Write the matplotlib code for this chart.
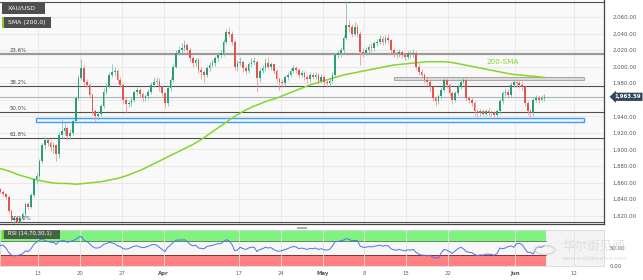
import numpy as np
import pandas as pd
import matplotlib
matplotlib.use("Agg")
import matplotlib.pyplot as plt
from matplotlib.patches import Rectangle
import matplotlib.transforms as mtransforms

# ---------------- data ----------------
start_date = "2023-03-06"
anchor_date = "2023-03-13"
holidays = ["2023-04-07"]

# 8-hour candle closes (3 per trading day; last day has 2)
closes = [
    1852, 1849, 1846,  # Mar 6
    1843, 1826, 1815,  # Mar 7
    1817, 1813, 1817,  # Mar 8
    1822, 1834, 1831,  # Mar 9
    1845, 1864, 1868,  # Mar 10
    1886, 1905, 1912,  # Mar 13
    1908, 1903, 1905,  # Mar 14
    1894, 1918, 1922,  # Mar 15
    1926, 1916, 1920,  # Mar 16
    1934, 1962, 1986,  # Mar 17
    1998, 1982, 1978,  # Mar 20
    1966, 1946, 1940,  # Mar 21
    1943, 1952, 1970,  # Mar 22
    1976, 1990, 1993,  # Mar 23
    1995, 1984, 1978,  # Mar 24
    1960, 1955, 1956,  # Mar 27
    1960, 1969, 1972,  # Mar 28
    1967, 1962, 1964,  # Mar 29
    1970, 1978, 1981,  # Mar 30
    1983, 1975, 1968,  # Mar 31
    1956, 1974, 1984,  # Apr 3
    2000, 2017, 2020,  # Apr 4
    2023, 2026, 2020,  # Apr 5
    2010, 2004, 2008,  # Apr 6
    1996, 1993, 1990,  # Apr 10
    1998, 2002, 2004,  # Apr 11
    2010, 2014, 2016,  # Apr 12
    2030, 2042, 2040,  # Apr 13
    2030, 2000, 2004,  # Apr 14
    2006, 1998, 1995,  # Apr 17
    2003, 2006, 2006,  # Apr 18
    1986, 1995, 1998,  # Apr 19
    2005, 2000, 2003,  # Apr 20
    1995, 1985, 1982,  # Apr 21
    1980, 1987, 1990,  # Apr 24
    1995, 1998, 1996,  # Apr 25
    1990, 1992, 1988,  # Apr 26
    1985, 1990, 1988,  # Apr 27
    1990, 1983, 1988,  # Apr 28
    1982, 1980, 1983,  # May 1
    1990, 2014, 2016,  # May 2
    2020, 2035, 2050,  # May 3
    2048, 2040, 2048,  # May 4
    2040, 2018, 2017,  # May 5
    2020, 2024, 2022,  # May 8
    2028, 2030, 2034,  # May 9
    2030, 2035, 2032,  # May 10
    2020, 2016, 2015,  # May 11
    2018, 2014, 2012,  # May 12
    2016, 2015, 2017,  # May 15
    2000, 1994, 1990,  # May 16
    1984, 1982, 1975,  # May 17
    1962, 1958, 1964,  # May 18
    1972, 1984, 1978,  # May 19
    1968, 1960, 1968,  # May 22
    1976, 1982, 1984,  # May 23
    1962, 1960, 1956,  # May 24
    1946, 1944, 1946,  # May 25
    1943, 1946, 1945,  # May 26
    1944, 1942, 1946,  # May 29
    1958, 1968, 1970,  # May 30
    1966, 1978, 1982,  # May 31
    1980, 1978, 1976,  # Jun 1
    1956, 1946, 1944,  # Jun 2
    1960, 1962, 1960,  # Jun 5
    1962, 1963.59,     # Jun 6
]
first_open = 1850

highs = [
    1855, 1854, 1851,
    1848, 1845, 1828,
    1820, 1819, 1820,
    1825, 1837, 1836,
    1848, 1866, 1872,
    1889, 1908, 1915,
    1914, 1911, 1909,
    1907, 1921, 1937,
    1932, 1928, 1925,
    1937, 1965, 1990,
    2009, 2002, 1985,
    1980, 1968, 1949,
    1946, 1955, 1974,
    1980, 1994, 2003,
    1999, 1997, 1987,
    1980, 1963, 1960,
    1963, 1972, 1976,
    1974, 1970, 1967,
    1973, 1981, 1987,
    1987, 1986, 1978,
    1970, 1977, 1987,
    2003, 2020, 2025,
    2028, 2032, 2029,
    2022, 2013, 2011,
    2010, 1999, 1996,
    2001, 2006, 2009,
    2013, 2018, 2021,
    2033, 2046, 2048,
    2043, 2032, 2008,
    2012, 2008, 2001,
    2006, 2010, 2012,
    2008, 1998, 2002,
    2010, 2012, 2006,
    2005, 1997, 1988,
    1985, 1990, 1994,
    1998, 2002, 2001,
    1998, 1996, 1995,
    1990, 1993, 1994,
    1993, 1992, 1991,
    1990, 1985, 1987,
    1993, 2017, 2020,
    2024, 2038, 2079,
    2056, 2052, 2054,
    2051, 2043, 2022,
    2024, 2027, 2028,
    2031, 2034, 2038,
    2037, 2038, 2040,
    2034, 2023, 2019,
    2021, 2020, 2017,
    2019, 2020, 2021,
    2019, 2003, 1997,
    1992, 1987, 1984,
    1977, 1965, 1967,
    1975, 1986, 1986,
    1980, 1971, 1971,
    1979, 1985, 1987,
    1986, 1965, 1963,
    1958, 1949, 1949,
    1949, 1949, 1950,
    1948, 1947, 1949,
    1961, 1971, 1974,
    1973, 1981, 1985,
    1985, 1983, 1981,
    1978, 1959, 1949,
    1963, 1966, 1965,
    1966, 1967,
]

lows = [
    1847, 1847, 1844,
    1840, 1823, 1812,
    1810, 1809, 1811,
    1815, 1820, 1828,
    1829, 1843, 1860,
    1866, 1884, 1900,
    1904, 1898, 1896,
    1886, 1890, 1914,
    1918, 1912, 1913,
    1918, 1932, 1960,
    1984, 1978, 1975,
    1962, 1942, 1934,
    1936, 1940, 1950,
    1967, 1974, 1987,
    1989, 1980, 1975,
    1955, 1944, 1951,
    1953, 1957, 1966,
    1963, 1958, 1959,
    1961, 1967, 1975,
    1978, 1971, 1965,
    1950, 1953, 1971,
    1982, 1998, 2014,
    2017, 2019, 2016,
    2006, 2000, 2001,
    1992, 1985, 1981,
    1987, 1995, 1999,
    2001, 2007, 2011,
    2013, 2027, 2036,
    2026, 1996, 1995,
    2001, 1994, 1991,
    1992, 2000, 2002,
    1969, 1982, 1992,
    1995, 1997, 1996,
    1991, 1981, 1972,
    1976, 1977, 1984,
    1987, 1992, 1992,
    1986, 1987, 1984,
    1980, 1982, 1985,
    1985, 1979, 1980,
    1978, 1976, 1977,
    1980, 1988, 2010,
    2012, 2017, 2032,
    2042, 2036, 2037,
    2036, 2002, 2012,
    2014, 2017, 2018,
    2019, 2025, 2027,
    2026, 2027, 2028,
    2016, 2012, 2011,
    2012, 2010, 2008,
    2009, 2011, 2012,
    1997, 1990, 1986,
    1980, 1978, 1970,
    1958, 1953, 1955,
    1961, 1969, 1974,
    1964, 1955, 1957,
    1965, 1973, 1979,
    1958, 1956, 1952,
    1941, 1939, 1941,
    1940, 1940, 1941,
    1940, 1937, 1939,
    1943, 1955, 1965,
    1962, 1963, 1975,
    1976, 1974, 1972,
    1952, 1942, 1938,
    1941, 1957, 1956,
    1958, 1958,
]

rsi = [
    55, 57, 58,
    50, 38, 30,
    28, 29, 31,
    34, 42, 40,
    48, 60, 66,
    72, 76, 70,
    68, 66, 66,
    60, 68, 70,
    70, 66, 68,
    70, 74, 80,
    82, 72, 68,
    62, 54, 50,
    50, 53, 60,
    62, 66, 64,
    62, 56, 54,
    48, 47, 48,
    52, 55, 56,
    53, 51, 52,
    55, 58, 60,
    58, 52, 46,
    40, 52, 58,
    66, 72, 72,
    72, 73, 68,
    60, 56, 58,
    50, 49, 48,
    54, 56, 57,
    60, 62, 62,
    68, 73, 70,
    60, 42, 45,
    52, 48, 46,
    50, 52, 52,
    40, 46, 48,
    52, 50, 51,
    46, 42, 41,
    43, 46, 48,
    52, 54, 53,
    48, 50, 48,
    46, 49, 48,
    50, 46, 48,
    45, 44, 46,
    55, 68, 68,
    70, 72, 76,
    74, 70, 71,
    70, 55, 52,
    52, 54, 53,
    55, 56, 58,
    55, 57, 56,
    48, 45, 44,
    46, 44, 42,
    45, 44, 46,
    38, 33, 30,
    30, 28, 30,
    24, 22, 23,
    36, 46, 44,
    40, 35, 42,
    48, 52, 48,
    40, 38, 37,
    32, 29, 31,
    30, 33, 33,
    32, 30, 34,
    50, 48, 50,
    54, 56, 52,
    62, 63, 60,
    48, 38, 38,
    33, 50, 53,
    52, 56,
]

# 200-period SMA, one value per trading day
sma200 = [
    1877, 1874, 1870, 1867, 1864,
    1862, 1860, 1859, 1859, 1858,
    1859, 1860, 1861, 1863, 1865,
    1868, 1872, 1876, 1881, 1886,
    1891, 1896, 1901, 1906,
    1912, 1919, 1926, 1933, 1940,
    1946, 1951, 1955, 1959, 1962,
    1966, 1970, 1974, 1978, 1981,
    1984, 1987, 1990, 1992, 1994,
    1996, 1998, 2000, 2002, 2003,
    2004, 2005, 2006, 2006, 2006,
    2005, 2003, 2001, 1999, 1997,
    1995, 1993, 1991, 1990, 1989,
    1988, 1987,
]

fib_high = 2078
fib_low = 1813
fib_levels = [0.0, 0.236, 0.382, 0.5, 0.618, 1.0]
fib_labels = ["0.0%", "23.6%", "38.2%", "50.0%", "61.8%", "100.0%"]

support_zone = (1933.5, 1938.3)
support_from = "2023-03-13"
resist_zone = (1983.6, 1987.7)
resist_from = "2023-05-11"
zone_to_date = "2023-06-13"

last_price = 1963.59
price_ticks = [1820, 1840, 1860, 1880, 1900, 1920, 1940, 1960, 1980, 2000, 2020, 2040, 2060]
tick_dates = ["2023-03-13", "2023-03-20", "2023-03-27", "2023-04-03", "2023-04-17",
              "2023-04-24", "2023-05-01", "2023-05-08", "2023-05-15", "2023-05-22",
              "2023-06-01", "2023-06-12"]
tick_labels = ["13", "20", "27", "Apr", "17", "24", "May", "8", "15", "22", "Jun", "12"]
bold_labels = {"Apr", "May", "Jun"}

# ---------------- positions ----------------
cal = pd.bdate_range(start_date, "2023-06-30")
cal = cal[~cal.isin(pd.to_datetime(holidays))]
anchor = cal.get_loc(pd.Timestamp(anchor_date))
def dpos(s):
    return cal.get_loc(pd.Timestamp(s)) - anchor

n = len(closes)
cx = np.array([(i // 3) - anchor + ((i % 3) + 0.5) / 3 for i in range(n)])
closes_a = np.array(closes, float)
opens_a = np.concatenate([[first_open], closes_a[:-1]])
highs_a = np.array(highs, float)
lows_a = np.array(lows, float)
sma_x = np.arange(len(sma200)) - anchor + 0.5
tick_pos = [dpos(s) for s in tick_dates]

# ---------------- figure ----------------
W, H = 643, 280
fig = plt.figure(figsize=(W / 100, H / 100), dpi=100)
fig.patch.set_facecolor("white")

def frect(x0, y0, x1, y1):
    return [x0 / W, 1 - y1 / H, (x1 - x0) / W, (y1 - y0) / H]

FS = 3.9
TXT = "#555555"
ax = fig.add_axes(frect(0, 0, 604, 224))
rax = fig.add_axes(frect(0, 230, 604, 266), sharex=ax)

xmin, xmax = -4.54, 67.62
ax.set_xlim(xmin, xmax)
ax.set_ylim(1810.0, 2080.5)
ax.set_facecolor("#f9f9f9")

for s in ["left", "top"]:
    ax.spines[s].set_visible(False)
for s in ["bottom", "right"]:
    ax.spines[s].set_color("#444444")
    ax.spines[s].set_linewidth(0.9)

ax.yaxis.tick_right()
ax.set_yticks(price_ticks)
ax.set_yticklabels(["" if p == 1960 else f"{p:,.2f}" for p in price_ticks])
ax.tick_params(axis="y", length=0, pad=6, labelsize=FS, labelcolor=TXT)
ax.set_xticks(tick_pos)
ax.tick_params(axis="x", length=0, labelbottom=False)
ax.grid(True, color="#e6e6e6", lw=0.6)
ax.set_axisbelow(True)

# fib levels
blend = mtransforms.blended_transform_factory(ax.transAxes, ax.transData)
for lv, lb in zip(fib_levels, fib_labels):
    p = fib_high - lv * (fib_high - fib_low)
    if lv == 0.236:
        ax.axhline(p, color="#9a9a9a", lw=1.6, zorder=2)
    else:
        ax.axhline(p, color="#505050", lw=0.8, zorder=2)
    ax.text(10 / 604, p + 0.8, lb, transform=blend, fontsize=FS, color="#444444",
            va="bottom", ha="left", zorder=6, clip_on=True)

# current price line
ax.axhline(last_price, color="#a9b4c2", lw=0.8, zorder=2)

# zones
zone_to = dpos(zone_to_date) + 0.2
x0s = dpos(support_from) - 0.25
ax.add_patch(Rectangle((x0s, support_zone[0]), zone_to - x0s, support_zone[1] - support_zone[0],
                       fc="#eef6ff", ec="#3d9df0", lw=1.0, zorder=3))
x0r = dpos(resist_from) + 0.5
ax.add_patch(Rectangle((x0r, resist_zone[0]), zone_to - x0r, resist_zone[1] - resist_zone[0],
                       fc="#dcdcdc", ec="#a8a8a8", lw=0.8, zorder=3))

# SMA
ax.plot(sma_x, sma200, color="#84d62c", lw=1.1, zorder=4)
ax.text(dpos("2023-05-22") + 6.5, 2001.5, "200-SMA", color="#84d62c", fontsize=5.2,
        ha="center", va="bottom", zorder=6)

# candles
up = closes_a >= opens_a
bull, bear = "#2a9d78", "#e2544c"
bull_w, bear_w = "#7cc4ad", "#ee9a94"
ax.vlines(cx[up], lows_a[up], highs_a[up], color=bull_w, lw=0.6, zorder=4)
ax.vlines(cx[~up], lows_a[~up], highs_a[~up], color=bear_w, lw=0.6, zorder=4)
bot = np.minimum(opens_a, closes_a)
hgt = np.maximum(np.abs(closes_a - opens_a), 0.6)
ax.bar(cx[up], hgt[up], bottom=bot[up], width=0.2, color=bull, lw=0, zorder=5)
ax.bar(cx[~up], hgt[~up], bottom=bot[~up], width=0.2, color=bear, lw=0, zorder=5)

# last price label
ax.text(1.017, last_price, f"{last_price:,.2f}", transform=blend, fontsize=FS,
        color="white", va="center", ha="left", fontweight="bold",
        bbox=dict(boxstyle="larrow,pad=0.3", fc="#33475e", ec="none"), zorder=8,
        clip_on=False)

# ---------------- RSI panel ----------------
rax.set_ylim(0, 100)
rax.set_facecolor("#f3f3f3")
end_x = cx[-1] + 1 / 6
frac = (end_x - xmin) / (xmax - xmin)
rax.axhspan(70, 100, xmin=0, xmax=frac, color="#80f27f", lw=0, zorder=1)
rax.axhspan(0, 30, xmin=0, xmax=frac, color="#ff8080", lw=0, zorder=1)
rax.axhspan(30, 70, xmin=0, xmax=frac, color="#f7f7f7", lw=0, zorder=0.5)
rax.hlines([70], xmin, end_x, color="#3f7f3f", lw=0.6, zorder=2)
rax.hlines([30], xmin, end_x, color="#6a2a2a", lw=0.6, zorder=2)
rax.plot(cx, rsi, color="#4f6ff0", lw=0.7, zorder=3)
for s in rax.spines.values():
    s.set_color("#d8d8d8")
    s.set_linewidth(0.6)
rax.yaxis.tick_right()
rax.set_yticks([0, 50])
rax.set_yticklabels(["0.00", "50.00"])
rax.tick_params(axis="y", length=0, pad=4, labelsize=FS, labelcolor=TXT)
rax.set_xticks(tick_pos)
rax.set_xticklabels(tick_labels)
rax.tick_params(axis="x", length=0, pad=3.5, labelsize=FS, labelcolor="#666666")
for t in rax.get_xticklabels():
    if t.get_text() in bold_labels:
        t.set_fontweight("bold")
        t.set_color("#555555")
rax.grid(True, axis="x", color="#e3e3e3", lw=0.6, zorder=0.8)
rax.set_axisbelow(False)

# ---------------- overlay labels ----------------
def fig_label(x0, y0, x1, y1, text, fc="#4e4e4e", strip=None, fs=4.4, alpha=1.0):
    fig.patches.append(Rectangle((x0 / W, 1 - y1 / H), (x1 - x0) / W, (y1 - y0) / H,
                                 transform=fig.transFigure, fc=fc, ec="none", alpha=alpha, zorder=20))
    if strip:
        fig.patches.append(Rectangle((x0 / W, 1 - y1 / H), 1.6 / W, (y1 - y0) / H,
                                     transform=fig.transFigure, fc=strip, ec="none", zorder=21))
    fig.text((x0 + 6) / W, 1 - ((y0 + y1) / 2) / H, text, fontsize=fs, color="white",
             va="center", ha="left", zorder=22)

fig_label(2, 3, 45, 13.5, "XAU/USD", fs=4.4)
fig_label(2, 17, 51, 28, "SMA (200,0)", strip="#7ed321", fs=4.4)
fig_label(2, 229.5, 60, 238.5, "RSI (14,70,30,1)", fc="#3c4a3c", strip="#7ed321", fs=3.9, alpha=0.85)

# scrollbar handle
fig.patches.append(Rectangle((297 / W, 1 - 229 / H), 10 / W, 2.5 / H, transform=fig.transFigure,
                             fc="#b0b0b0", ec="none", zorder=20))

# watermark
fig.patches.append(plt.Circle((545 / W, 1 - 250 / H), 10 / W, transform=fig.transFigure,
                              fc="none", ec="#d0d0d0", lw=1.2, alpha=0.7, zorder=19))
fig.text(562 / W, 1 - 246 / H, "华尔街见闻", fontsize=9, color="#d4d4d4", alpha=0.7,
         va="center", ha="left", family=["Noto Sans CJK SC", "DejaVu Sans"], zorder=19)
fig.text(562 / W, 1 - 258 / H, "www.wallstreetcn.com", fontsize=4.2, color="#d0d0d0", alpha=0.8,
         va="center", ha="left", zorder=19)

fig.savefig("out.png", dpi=100, facecolor="white")
